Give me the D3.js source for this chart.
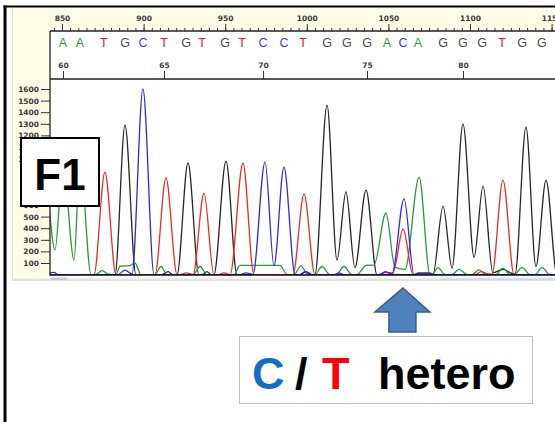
<!DOCTYPE html>
<html><head><meta charset="utf-8">
<script src="https://cdn.jsdelivr.net/npm/d3@7"></script>
<style>html,body{margin:0;padding:0;background:#fff;} svg{display:block;}</style>
</head><body>
<svg id="c" width="555" height="422"></svg>
<script>
// ---------- data ----------
const rulerTicks = [850, 900, 950, 1000, 1050, 1100, 1150];
const baseCalls = ["A","A","T","G","C","T","G","T","G","T","C","C","T","G","G","G","A","C","A","G","G","G","T","G","G"];
const baseScans = [850.6,861.0,875.7,888.6,899.6,912.5,926.0,935.8,949.9,960.3,973.2,986.0,997.7,1012.4,1024.6,1036.9,1049.1,1058.9,1068.1,1083.5,1095.7,1107.4,1119.6,1131.9,1144.1];
const firstBaseNumber = 60;
const baseNumberTicks = [60, 65, 70, 75, 80];
const signalTicks = [100,200,300,400,500,600,700,800,900,1000,1100,1200,1300,1400,1500,1600];
const heteroBase = 77;
const panelLabel = "F1";
const heteroParts = ["C", "/", "T", "hetero"];

// traces: [scan, signal]
const traceA = [[835.3,300],[839.0,900],[845.7,212],[850.6,950],[857.4,126],[861.0,1000],[867.8,0],[871.4,5],[874.5,35],[878.2,5],[883.1,0],[885.5,72],[891.7,78],[894.7,100],[898.4,0],[907.0,0],[910.7,70],[914.3,0],[930.3,0],[934.6,70],[938.8,0],[955.4,0],[959.1,80],[971.3,80],[983.6,80],[987.9,0],[992.2,0],[996.4,75],[1000.7,0],[1005.0,0],[1009.3,70],[1014.2,0],[1017.9,0],[1022.8,70],[1027.7,0],[1030.8,0],[1036.3,80],[1041.2,82],[1048.5,531],[1054.0,65],[1060.2,45],[1068.8,841],[1075.5,0],[1076.7,0],[1080.4,60],[1084.7,0],[1089.0,0],[1093.3,45],[1098.2,0],[1101.2,0],[1105.5,40],[1109.8,0],[1115.9,0],[1120.2,55],[1124.5,0],[1127.0,0],[1131.9,60],[1136.8,0],[1139.8,0],[1144.1,60],[1149.0,0],[1158.2,0]];
const traceG = [[836.5,0],[882.5,0],[888.6,1289],[895.3,0],[911.3,0],[915.0,25],[918.0,0],[920.5,0],[927.2,962],[933.9,0],[935.8,0],[938.8,25],[941.3,0],[943.1,0],[950.5,978],[957.2,0],[995.8,0],[999.5,25],[1003.2,0],[1005.0,0],[1012.4,1461],[1018.5,126],[1024.0,712],[1029.5,60],[1036.3,729],[1043.0,0],[1066.3,0],[1068.1,12],[1075.5,12],[1077.3,0],[1083.5,591],[1089.0,57],[1095.7,1297],[1102.5,150],[1108.0,763],[1114.0,15],[1120.2,45],[1125.7,10],[1127.6,5],[1134.3,1271],[1140.4,70],[1146.6,815],[1153.3,0],[1158.2,0]];
const traceC = [[836.5,0],[842.6,15],[845.1,20],[847.5,0],[884.3,0],[888.6,38],[892.9,5],[899.6,1600],[906.4,0],[959.1,0],[962.7,15],[967.0,0],[974.4,970],[979.9,75],[986.0,927],[992.8,0],[995.8,0],[998.9,25],[1002.6,0],[1016.7,0],[1019.7,15],[1022.8,0],[1044.9,0],[1048.0,25],[1052.2,5],[1059.6,652],[1065.7,0],[1068.1,12],[1075.5,12],[1078.0,0],[1158.2,0]];
const traceT = [[836.5,0],[869.6,0],[876.3,884],[883.1,0],[907.0,0],[913.7,833],[920.5,0],[922.3,0],[926.0,15],[930.3,0],[937.0,703],[943.1,0],[945.6,0],[949.3,15],[953.0,0],[960.9,960],[967.6,0],[991.5,0],[998.3,693],[1005.0,0],[1043.6,0],[1047.9,18],[1052.8,15],[1059.0,393],[1065.1,0],[1103.1,0],[1106.8,25],[1111.0,5],[1113.5,3],[1120.2,815],[1127.0,0],[1158.2,0]];

// ---------- drawing ----------
const W = 555, H = 422;
const svg = d3.select("#c");
const x = d3.scaleLinear().domain([850, 1100]).range([62, 470]);
const y = d3.scaleLinear().domain([0, 1600]).range([274.6, 89]);
const bx = d3.scaleLinear()
  .domain(baseScans.map((s, i) => i + firstBaseNumber))
  .range(baseScans.map(s => x(s)));

svg.append("rect").attr("width", W).attr("height", H).attr("fill", "#fff");
// yellow application panel
svg.append("rect").attr("x", 12).attr("y", 8).attr("width", W - 12).attr("height", 271).attr("fill", "#fffde6");
svg.append("line").attr("x1", 12.5).attr("x2", 12.5).attr("y1", 8).attr("y2", 279).attr("stroke", "#e2e0cc").attr("stroke-width", 1);
// white sequence + trace area
svg.append("rect").attr("x", 50).attr("y", 31).attr("width", W - 50).attr("height", 247).attr("fill", "#fff");
// grey strip / scrollbar
svg.append("rect").attr("x", 12).attr("y", 278.5).attr("width", W - 12).attr("height", 2.5).attr("fill", "#e3e3e3");
svg.append("rect").attr("x", 51).attr("y", 277.5).attr("width", 16).attr("height", 2.5).attr("fill", "#c9ccd2");
svg.append("line").attr("x1", 440).attr("x2", W).attr("y1", 279).attr("y2", 279).attr("stroke", "#bcd0ea").attr("stroke-width", 1.2);

// slide frame
svg.append("line").attr("x1", 5).attr("x2", 5).attr("y1", 5.5).attr("y2", H).attr("stroke", "#000").attr("stroke-width", 3);
svg.append("line").attr("x1", 3.5).attr("x2", W).attr("y1", 6.5).attr("y2", 6.5).attr("stroke", "#000").attr("stroke-width", 2);

const tickFont = g => {
  g.selectAll("text").attr("font-family", "DejaVu Sans, Verdana, sans-serif").attr("font-size", 7.5)
    .attr("font-weight", "bold").attr("fill", "#3a3a3a");
  g.selectAll("line").attr("stroke", "#333");
  g.select(".domain").remove();
};

// top ruler (scan numbers)
const minorTicks = d3.range(845, 1156, 5);
svg.append("g").attr("transform", "translate(0,31)")
  .call(d3.axisTop(x).tickValues(minorTicks).tickSize(3).tickFormat(""))
  .call(tickFont);
svg.append("g").attr("transform", "translate(0,31)")
  .call(d3.axisTop(x).tickValues(rulerTicks).tickSize(7).tickPadding(3).tickFormat(d3.format("d")))
  .call(tickFont);

// base calls
const baseColor = {A: "#2f9e2f", C: "#3a3ae0", G: "#4a4a4a", T: "#e52222"};
svg.append("g").selectAll("text").data(baseCalls).join("text")
  .attr("x", (d, i) => x(baseScans[i]))
  .attr("y", 47)
  .attr("text-anchor", "middle")
  .attr("font-family", "Liberation Sans, Arial, sans-serif")
  .attr("font-size", 12.5)
  .attr("fill", d => baseColor[d])
  .text(d => d);

// base numbers
svg.append("g").attr("transform", "translate(0,79)")
  .call(d3.axisTop(bx).tickValues(baseNumberTicks).tickSize(8).tickPadding(3).tickFormat(d3.format("d")))
  .call(tickFont);

// y axis
svg.append("g").attr("transform", "translate(50,0)")
  .call(d3.axisLeft(y).tickValues(signalTicks).tickSize(9).tickPadding(2).tickFormat(d3.format("d")))
  .call(tickFont);

// traces
svg.append("clipPath").attr("id", "plotclip").append("rect")
  .attr("x", 50).attr("y", 80).attr("width", W - 50).attr("height", y(0) - 80 + 0.5);
const line = d3.line().x(d => x(d[0])).y(d => y(d[1])).curve(d3.curveMonotoneX);
const traces = [
  {data: traceG, color: "#262626"},
  {data: traceA, color: "#2a9a35"},
  {data: traceT, color: "#ec2a2a"},
  {data: traceC, color: "#2b2be6"}
];
svg.append("g").attr("clip-path", "url(#plotclip)").selectAll("path").data(traces).join("path")
  .attr("d", d => line(d.data)).attr("fill", "none")
  .attr("stroke", d => d.color).attr("stroke-width", 1.3).attr("stroke-linejoin", "round");

// frame lines of the viewer
const frame = svg.append("g").attr("stroke", "#222");
frame.append("line").attr("x1", 50).attr("x2", W).attr("y1", 31).attr("y2", 31).attr("stroke-width", 1.3);
frame.append("line").attr("x1", 50).attr("x2", W).attr("y1", 79).attr("y2", 79).attr("stroke-width", 1.5);
frame.append("line").attr("x1", 50).attr("x2", 50).attr("y1", 31).attr("y2", 275.5).attr("stroke-width", 1.3);
frame.append("line").attr("x1", 50).attr("x2", W).attr("y1", 275).attr("y2", 275).attr("stroke-width", 1.6).attr("stroke", "#111");

// F1 label box
svg.append("rect").attr("x", 21).attr("y", 138).attr("width", 78).attr("height", 68)
  .attr("fill", "#fff").attr("stroke", "#000").attr("stroke-width", 2);
svg.append("text").attr("x", 60).attr("y", 190).attr("text-anchor", "middle")
  .attr("font-family", "Liberation Sans, Arial, sans-serif").attr("font-weight", "bold")
  .attr("font-size", 44).attr("fill", "#000").text(panelLabel);

// arrow pointing to the heterozygous base
const ax = x(baseScans[heteroBase - firstBaseNumber]);
const arrow = [[ax, 288], [ax + 27, 312], [ax + 13, 312], [ax + 13, 332], [ax - 14, 332], [ax - 14, 312], [ax - 28, 312]];
svg.append("path").attr("d", d3.line()(arrow) + "Z")
  .attr("fill", "#4f81bd").attr("stroke", "#385d8a").attr("stroke-width", 1.5).attr("stroke-linejoin", "miter");

// hetero label
svg.append("rect").attr("x", 239.5).attr("y", 336.5).attr("width", 293).attr("height", 67)
  .attr("fill", "#fff").attr("stroke", "#c0c0c0").attr("stroke-width", 1);
const partX = [252, 295, 322, 378];
const partColor = ["#1170c4", "#000", "#ff0000", "#000"];
svg.append("g").selectAll("text").data(heteroParts).join("text")
  .attr("x", (d, i) => partX[i]).attr("y", 388.5)
  .attr("font-family", "Liberation Sans, Arial, sans-serif").attr("font-weight", "bold")
  .attr("font-size", 45).attr("fill", (d, i) => partColor[i]).text(d => d);
</script>
</body></html>
